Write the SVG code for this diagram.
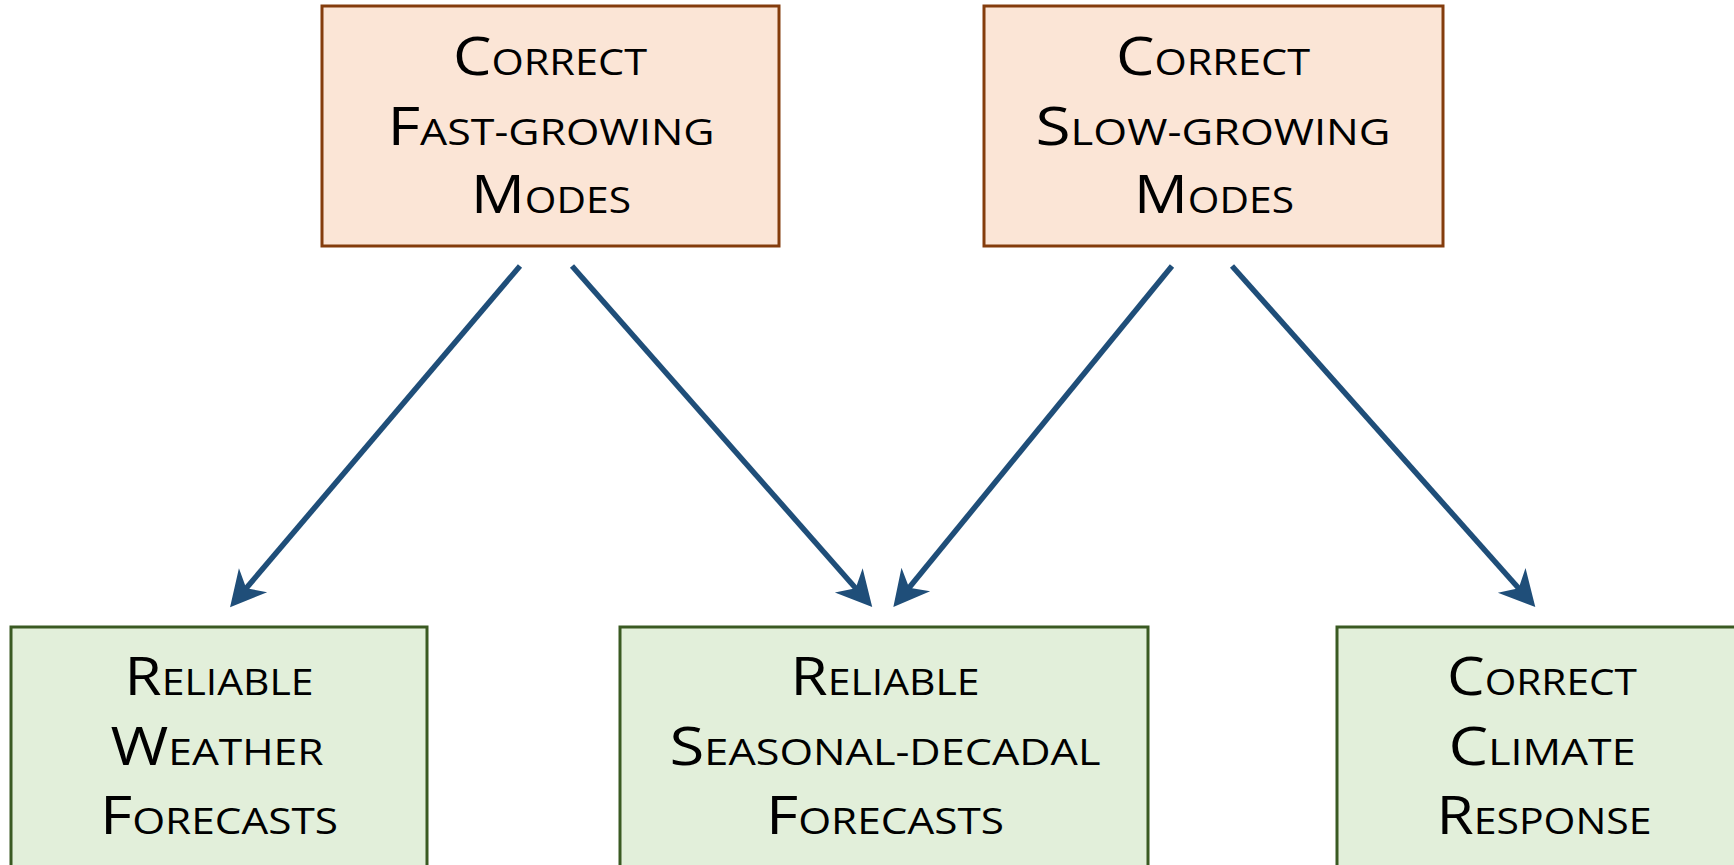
<svg xmlns="http://www.w3.org/2000/svg" width="1734" height="865" viewBox="0 0 1734 865">
  <style>
    .cause { fill: #FBE5D6; stroke: #843C0C; stroke-width: 3; }
    .effect { fill: #E2EFDA; stroke: #3A5A22; stroke-width: 3; }
    .label { font-family: "Open Sans", Lato, sans-serif; font-size: 53px; fill: #000; text-anchor: middle; }
    .sc { font-size: 36px; }
    .link { stroke: #1F4E79; stroke-width: 5.5; fill: none; marker-end: url(#head); }
  </style>
  <defs>
    <marker id="head" markerUnits="userSpaceOnUse" markerWidth="60" markerHeight="60" viewBox="-30 -30 60 60" refX="0" refY="0" orient="auto">
      <path d="M20,0 L-15.5,-18.5 L-5,0 L-15.5,18.5 Z" fill="#1F4E79"/>
    </marker>
  </defs>

  <g id="fast-modes">
    <rect class="cause" x="322" y="6" width="457" height="240"/>
    <text class="label" x="550" y="75" textLength="194" lengthAdjust="spacingAndGlyphs">C<tspan class="sc">ORRECT</tspan></text>
    <text class="label" x="551" y="145" textLength="327" lengthAdjust="spacingAndGlyphs">F<tspan class="sc">AST-GROWING</tspan></text>
    <text class="label" x="551" y="213" textLength="160" lengthAdjust="spacingAndGlyphs">M<tspan class="sc">ODES</tspan></text>
  </g>

  <g id="slow-modes">
    <rect class="cause" x="984" y="6" width="459" height="240"/>
    <text class="label" x="1213" y="75" textLength="194" lengthAdjust="spacingAndGlyphs">C<tspan class="sc">ORRECT</tspan></text>
    <text class="label" x="1213" y="145" textLength="355" lengthAdjust="spacingAndGlyphs">S<tspan class="sc">LOW-GROWING</tspan></text>
    <text class="label" x="1214" y="213" textLength="160" lengthAdjust="spacingAndGlyphs">M<tspan class="sc">ODES</tspan></text>
  </g>

  <g id="weather">
    <rect class="effect" x="11" y="627" width="416" height="260"/>
    <text class="label" x="219" y="695" textLength="189" lengthAdjust="spacingAndGlyphs">R<tspan class="sc">ELIABLE</tspan></text>
    <text class="label" x="217" y="765" textLength="213" lengthAdjust="spacingAndGlyphs">W<tspan class="sc">EATHER</tspan></text>
    <text class="label" x="219" y="834" textLength="238" lengthAdjust="spacingAndGlyphs">F<tspan class="sc">ORECASTS</tspan></text>
  </g>

  <g id="seasonal">
    <rect class="effect" x="620" y="627" width="528" height="260"/>
    <text class="label" x="885" y="695" textLength="189" lengthAdjust="spacingAndGlyphs">R<tspan class="sc">ELIABLE</tspan></text>
    <text class="label" x="885" y="765" textLength="431" lengthAdjust="spacingAndGlyphs">S<tspan class="sc">EASONAL-DECADAL</tspan></text>
    <text class="label" x="885" y="834" textLength="238" lengthAdjust="spacingAndGlyphs">F<tspan class="sc">ORECASTS</tspan></text>
  </g>

  <g id="climate">
    <rect class="effect" x="1337" y="627" width="420" height="260"/>
    <text class="label" x="1542" y="695" textLength="190" lengthAdjust="spacingAndGlyphs">C<tspan class="sc">ORRECT</tspan></text>
    <text class="label" x="1542" y="765" textLength="187" lengthAdjust="spacingAndGlyphs">C<tspan class="sc">LIMATE</tspan></text>
    <text class="label" x="1544" y="834" textLength="215" lengthAdjust="spacingAndGlyphs">R<tspan class="sc">ESPONSE</tspan></text>
  </g>

  <g id="connectors">
    <line class="link" x1="520" y1="266" x2="243" y2="592"/>
    <line class="link" x1="572" y1="266" x2="859" y2="592"/>
    <line class="link" x1="1172" y1="266" x2="906" y2="591.5"/>
    <line class="link" x1="1232" y1="266" x2="1522" y2="592"/>
  </g>
</svg>
